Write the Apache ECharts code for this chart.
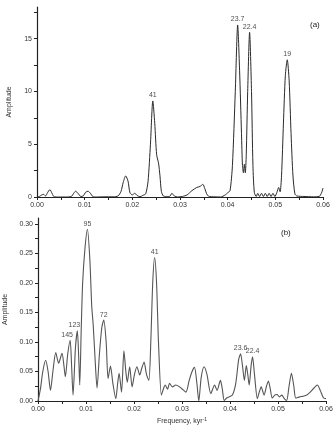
<!DOCTYPE html>
<html>
<head>
<meta charset="utf-8">
<title>Amplitude spectra</title>
<script src="https://cdn.jsdelivr.net/npm/echarts@6/dist/echarts.min.js"></script>
<style>
  html, body { margin: 0; padding: 0; background: #fff; }
  #main { width: 335px; height: 427px; }
</style>
</head>
<body>
<div id="main"></div>
<script type="text/javascript">
// panel (a)
var freqA = [0, 0.0005, 0.0010, 0.0014, 0.0018, 0.0022, 0.0027, 0.0032, 0.0036, 0.0045, 0.0060,
  0.0072, 0.0077, 0.0081, 0.0086, 0.0092, 0.0097, 0.0102, 0.0107, 0.0112, 0.0117, 0.0125, 0.0140,
  0.0160, 0.0170, 0.0176, 0.0181, 0.0186, 0.0191, 0.0195, 0.0200, 0.0205, 0.0210, 0.0216, 0.0222,
  0.0228, 0.0233, 0.0238, 0.0243, 0.0247, 0.0251, 0.0255, 0.0258, 0.0261, 0.0265, 0.0270, 0.0278,
  0.0283, 0.0288, 0.0295, 0.0305, 0.0315, 0.0325, 0.0335, 0.0342, 0.0348, 0.0352, 0.0357, 0.0362,
  0.0370, 0.0385, 0.0395, 0.0400, 0.0405, 0.0410, 0.0416, 0.0421, 0.0425, 0.0429, 0.0431, 0.0433,
  0.0435, 0.0437, 0.0439, 0.0442, 0.0446, 0.0450, 0.0453, 0.0456, 0.0460, 0.0463, 0.0467, 0.0471,
  0.0475, 0.0479, 0.0483, 0.0487, 0.0491, 0.0495, 0.0499, 0.0503, 0.0507, 0.0510, 0.0513, 0.0517,
  0.0521, 0.0525, 0.0529, 0.0533, 0.0537, 0.0541, 0.0545, 0.0560, 0.0580, 0.0592, 0.0597, 0.0600];
var ampA = [0, 0.05, 0.2, 0.25, 0.1, 0.4, 0.7, 0.3, 0.02, 0, 0,
  0.05, 0.35, 0.55, 0.35, 0.05, 0.1, 0.45, 0.55, 0.35, 0.05, 0, 0.02,
  0.02, 0.1, 0.5, 1.4, 2.0, 1.5, 0.4, 0.2, 0.35, 0.15, 0.02, 0.15,
  0.3, 1.5, 5.0, 9.1, 7.0, 4.0, 3.2, 2.0, 0.5, 0.1, 0.05, 0.05,
  0.35, 0.1, 0, 0.05, 0.2, 0.6, 0.9, 1.0, 1.2, 0.8, 0.2, 0.05,
  0.02, 0, 0.2, 0.4, 0.6, 3.0, 10.0, 16.3, 12.0, 6.0, 3.0, 2.3,
  3.1, 2.3, 4.0, 10.0, 15.6, 10.0, 3.0, 0.4, 0.05, 0.35, 0.05, 0.35,
  0.05, 0.35, 0.05, 0.35, 0.05, 0.35, 0.05, 0.4, 0.9, 0.5, 2.0, 7.0,
  11.5, 13.0, 11.0, 6.0, 2.0, 0.3, 0.1, 0.05, 0.02, 0.05, 0.4, 0.85];
var peakFreqA = [0.0243, 0.0421, 0.0446, 0.0525];
var peakAmpA = [9.1, 16.3, 15.6, 13.0];
var peakNameA = ['41', '23.7', '22.4', '19'];

// panel (b)
var freqB = [0, 0.0005, 0.0010, 0.0016, 0.0021, 0.0026, 0.0031, 0.0037, 0.0043, 0.0050, 0.0054,
  0.0057, 0.0062, 0.0067, 0.0070, 0.0073, 0.0078, 0.0082, 0.0085, 0.0087, 0.0090, 0.0093, 0.0098,
  0.0103, 0.0108, 0.0112, 0.0115, 0.0119, 0.0123, 0.0128, 0.0133, 0.0137, 0.0142, 0.0146, 0.0151,
  0.0156, 0.0162, 0.0166, 0.0169, 0.0174, 0.0179, 0.0183, 0.0186, 0.0191, 0.0196, 0.0201, 0.0206,
  0.0212, 0.0216, 0.0221, 0.0226, 0.0231, 0.0235, 0.0239, 0.0243, 0.0247, 0.0251, 0.0257, 0.0261,
  0.0265, 0.0270, 0.0274, 0.0280, 0.0287, 0.0298, 0.0308, 0.0315, 0.0321, 0.0326, 0.0331, 0.0335,
  0.0340, 0.0346, 0.0352, 0.0360, 0.0368, 0.0373, 0.0380, 0.0384, 0.0388, 0.0393, 0.0398, 0.0405,
  0.0412, 0.0418, 0.0422, 0.0426, 0.0430, 0.0434, 0.0437, 0.0440, 0.0444, 0.0447, 0.0451, 0.0457,
  0.0461, 0.0465, 0.0471, 0.0476, 0.0480, 0.0484, 0.0488, 0.0493, 0.0498, 0.0503, 0.0508, 0.0513,
  0.0518, 0.0523, 0.0528, 0.0533, 0.0537, 0.0545, 0.0552, 0.0560, 0.0567, 0.0575, 0.0582, 0.0588,
  0.0595, 0.0600];
var ampB = [0, 0.02, 0.05, 0.069, 0.05, 0.018, 0.05, 0.082, 0.064, 0.081, 0.06,
  0.041, 0.08, 0.103, 0.06, 0.01, 0.09, 0.119, 0.07, 0.027, 0.12, 0.2, 0.26,
  0.291, 0.24, 0.16, 0.129, 0.07, 0.022, 0.08, 0.125, 0.137, 0.1, 0.038, 0.059,
  0.03, 0.004, 0.03, 0.047, 0.015, 0.085, 0.05, 0.032, 0.058, 0.024, 0.045, 0.058,
  0.044, 0.055, 0.066, 0.045, 0.035, 0.1, 0.2, 0.243, 0.2, 0.1, 0.01, 0.02,
  0.027, 0.02, 0.03, 0.024, 0.027, 0.022, 0.015, 0.035, 0.05, 0.057, 0.03, 0.0,
  0.04, 0.058, 0.045, 0.0125, 0.027, 0.018, 0.035, 0.02, 0.001, 0.005, 0.007, 0.01,
  0.03, 0.07, 0.08, 0.06, 0.035, 0.06, 0.045, 0.027, 0.06, 0.075, 0.045, 0.004,
  0.015, 0.024, 0.01, 0.025, 0.034, 0.02, 0.005, 0.01, 0.011, 0.007, 0.01, 0.004,
  0.001, 0.025, 0.047, 0.025, 0.005, 0.007, 0.008, 0.01, 0.015, 0.022, 0.027, 0.018,
  0.005, 0.004];
var peakFreqB = [0.0067, 0.0082, 0.0103, 0.0137, 0.0243, 0.0422, 0.0447];
var peakAmpB = [0.103, 0.119, 0.291, 0.137, 0.243, 0.08, 0.075];
var peakNameB = ['145', '123', '95', '72', '41', '23.6', '22.4'];

// ticks and labels
var xTicks = [0, 0.005, 0.01, 0.015, 0.02, 0.025, 0.03, 0.035, 0.04, 0.045, 0.05, 0.055, 0.06];
var xLabels = [0, 0.01, 0.02, 0.03, 0.04, 0.05, 0.06];
var yTicksA = [0, 2.5, 5, 7.5, 10, 12.5, 15, 17.5];
var yLabelsA = [0, 5, 10, 15];
var yTicksB = [0, 0.025, 0.05, 0.075, 0.1, 0.125, 0.15, 0.175, 0.2, 0.225, 0.25, 0.275, 0.3];
var yLabelsB = [0, 0.05, 0.1, 0.15, 0.2, 0.25, 0.3];

// crowded labels nudged sideways, as in the figure
var labelShift = { '145': [-3, 0], '123': [-3, 0] };

function zip(xs, ys) {
  var out = [];
  for (var i = 0; i < xs.length; i++) out.push([xs[i], ys[i]]);
  return out;
}
function peaks(xs, ys, names) {
  var out = [];
  for (var i = 0; i < xs.length; i++) {
    var item = { value: [xs[i], ys[i]], name: names[i] };
    if (labelShift[names[i]]) item.label = { offset: labelShift[names[i]] };
    out.push(item);
  }
  return out;
}

var font = 'Liberation Sans';
var axisColor = '#222';

function xAxisOf(gi, name) {
  return {
    type: 'value', gridIndex: gi, min: 0, max: 0.06,
    name: name, nameLocation: 'middle', nameGap: 16,
    nameTextStyle: { fontFamily: font, fontSize: 7, color: '#333',
      rich: { sup: { fontFamily: font, fontSize: 5, verticalAlign: 'top', padding: [0, 0, 4, 0], color: '#333' } } },
    axisLine: { lineStyle: { color: axisColor, width: 1.2 } },
    axisTick: { length: 3, lineStyle: { color: axisColor }, customValues: xTicks },
    axisLabel: { fontFamily: font, fontSize: 7, color: '#333', margin: 5,
      customValues: xLabels, formatter: function (v) { return v.toFixed(2); } },
    splitLine: { show: false }
  };
}
function yAxisOf(gi, max, ticks, labels, digits) {
  return {
    type: 'value', gridIndex: gi, min: 0, max: max,
    name: 'Amplitude', nameLocation: 'middle', nameGap: 24,
    nameTextStyle: { fontFamily: font, fontSize: 7, color: '#333' },
    axisLine: { lineStyle: { color: axisColor, width: 1.2 } },
    axisTick: { length: 3, lineStyle: { color: axisColor }, customValues: ticks },
    axisLabel: { fontFamily: font, fontSize: 7, color: '#333', margin: 5,
      customValues: labels, formatter: function (v) { return v.toFixed(digits); } },
    splitLine: { show: false }
  };
}

var myChart = echarts.init(document.getElementById('main'), null, { renderer: 'canvas' });
var option = {
  backgroundColor: '#fff',
  animation: false,
  title: [
    { text: '(a)', left: 305, top: 16, textStyle: { fontFamily: font, fontSize: 8, fontWeight: 'normal', color: '#222' } },
    { text: '(b)', left: 276, top: 224, textStyle: { fontFamily: font, fontSize: 8, fontWeight: 'normal', color: '#222' } }
  ],
  grid: [
    { left: 37, top: 7, width: 286, height: 190, outerBoundsMode: 'none' },
    { left: 38, top: 218, width: 288, height: 183, outerBoundsMode: 'none' }
  ],
  xAxis: [xAxisOf(0, ''), xAxisOf(1, 'Frequency, kyr{sup|-1}')],
  yAxis: [yAxisOf(0, 18, yTicksA, yLabelsA, 0), yAxisOf(1, 0.31, yTicksB, yLabelsB, 2)],
  series: [
    { type: 'line', xAxisIndex: 0, yAxisIndex: 0, data: zip(freqA, ampA), smooth: 0.25,
      showSymbol: false, lineStyle: { color: '#2a2a2a', width: 1 }, z: 1 },
    { type: 'line', xAxisIndex: 1, yAxisIndex: 1, data: zip(freqB, ampB), smooth: 0.25,
      showSymbol: false, lineStyle: { color: '#555', width: 1.1 }, z: 1 },
    { type: 'scatter', xAxisIndex: 0, yAxisIndex: 0, data: peaks(peakFreqA, peakAmpA, peakNameA),
      symbolSize: 0, label: { show: true, position: 'top', distance: 2, formatter: '{b}',
        fontFamily: font, fontSize: 7, color: '#222' } },
    { type: 'scatter', xAxisIndex: 1, yAxisIndex: 1, data: peaks(peakFreqB, peakAmpB, peakNameB),
      symbolSize: 0, label: { show: true, position: 'top', distance: 2, formatter: '{b}',
        fontFamily: font, fontSize: 7, color: '#222' } }
  ]
};
myChart.setOption(option);
</script>
</body>
</html>
